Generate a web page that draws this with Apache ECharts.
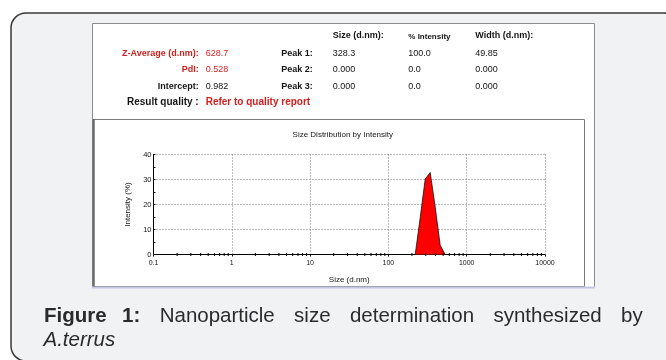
<!DOCTYPE html>
<html>
<head>
<meta charset="utf-8">
<script src="https://cdn.jsdelivr.net/npm/echarts@6/dist/echarts.min.js"></script>
<style>
  html, body { margin: 0; padding: 0; background: #ffffff; }
  #chart { width: 666px; height: 360px; }
</style>
</head>
<body>
<div id="chart"></div>
<script>
// Size distribution by intensity (DLS)
var sizeNm = [220.2, 255.0, 295.3, 342.0, 396.1, 458.7, 531.2];
var intensityPct = [0, 14.8, 30.2, 32.8, 18.9, 3.7, 0];

var xTickLabels = ['0.1', '1', '10', '100', '1000', '10000'];
var yTickLabels = ['0', '10', '20', '30', '40'];
var decadeStarts = [0.1, 1, 10, 100, 1000];
var minorMultipliers = [2, 3, 4, 5, 6, 7, 8, 9];

// Results table
var resultLabels = ['Z-Average (d.nm):', 'PdI:', 'Intercept:'];
var resultValues = ['628.7', '0.528', '0.982'];
var resultRed = [true, true, false];
var qualityLabel = 'Result quality :';
var qualityValue = 'Refer to quality report';
var peakHeaders = ['Size (d.nm):', '% Intensity', 'Width (d.nm):'];
var peakLabels = ['Peak 1:', 'Peak 2:', 'Peak 3:'];
var peakSizes = ['328.3', '0.000', '0.000'];
var peakIntensities = ['100.0', '0.0', '0.0'];
var peakWidths = ['49.85', '0.000', '0.000'];

var captionBold = ['Figure', '1:'];
var captionWords = ['Nanoparticle', 'size', 'determination', 'synthesized', 'by'];
var captionLine2 = 'A.terrus';

var FONT = '"Liberation Sans", Arial, Helvetica, sans-serif';
var RED = '#d11f1f';
var INK = '#151515';

var pairs = sizeNm.map(function (s, i) { return [s, intensityPct[i]]; });
var minorTicks = [];
decadeStarts.forEach(function (d) {
  minorMultipliers.forEach(function (m) { minorTicks.push([d * m, 0]); });
});

var graphics = [];
// outer rounded frame
graphics.push({
  type: 'rect', z: -10, silent: true,
  shape: { x: 11, y: 13, width: 668, height: 348, r: 15 },
  style: { fill: '#f1f2f4', stroke: '#3a3a3a', lineWidth: 1.5 }
});
// report panel
graphics.push({
  type: 'rect', z: -9, silent: true,
  shape: { x: 92.5, y: 23.5, width: 502, height: 264 },
  style: { fill: '#ffffff', stroke: '#8c8c8c', lineWidth: 1 }
});
// chart box
graphics.push({
  type: 'rect', z: -8, silent: true,
  shape: { x: 94, y: 119.5, width: 490.5, height: 167 },
  style: { fill: '#ffffff', stroke: '#7a7a7a', lineWidth: 1 }
});
graphics.push({
  type: 'line', z: -7, silent: true,
  shape: { x1: 93.5, y1: 119, x2: 93.5, y2: 287 },
  style: { stroke: '#6a6a6a', lineWidth: 2 }
});
graphics.push({
  type: 'line', z: -7, silent: true,
  shape: { x1: 92, y1: 287.5, x2: 595, y2: 287.5 },
  style: { stroke: '#c3c6e6', lineWidth: 2 }
});

function txt(x, y, text, opts) {
  opts = opts || {};
  graphics.push({
    type: 'text', silent: true, z: 5,
    x: x, y: y,
    style: {
      text: text,
      fill: opts.fill || INK,
      font: (opts.italic ? 'italic ' : '') + (opts.bold ? 'bold ' : '') + (opts.size || 9) + 'px ' + FONT,
      align: opts.align || 'left',
      verticalAlign: 'middle'
    }
  });
}

// table
var colSize = 332.7, colInt = 408.3, colWidth = 475.3;
var rowY = [53.3, 70, 86.7];
txt(colSize, 36, peakHeaders[0], { bold: true });
txt(colInt, 36.5, peakHeaders[1], { bold: true, size: 8 });
txt(colWidth, 36, peakHeaders[2], { bold: true });
for (var i = 0; i < 3; i++) {
  txt(198.7, rowY[i], resultLabels[i], { bold: true, align: 'right', fill: resultRed[i] ? RED : INK });
  txt(205.7, rowY[i], resultValues[i], { fill: resultRed[i] ? RED : INK });
  txt(312.7, rowY[i], peakLabels[i], { bold: true, align: 'right' });
  txt(colSize, rowY[i], peakSizes[i]);
  txt(colInt, rowY[i], peakIntensities[i]);
  txt(colWidth, rowY[i], peakWidths[i]);
}
txt(198.7, 102.7, qualityLabel, { bold: true, align: 'right', size: 10 });
txt(205.7, 102.7, qualityValue, { bold: true, size: 10, fill: RED });

// justified caption (first gap is a little tighter, between the bold words)
var capSize = 20.5;
var cv = document.createElement('canvas').getContext('2d');
function measure(t, bold) {
  cv.font = (bold ? 'bold ' : '') + capSize + 'px ' + FONT;
  return cv.measureText(t).width;
}
var words = captionBold.map(function (w) { return { t: w, b: true }; })
  .concat(captionWords.map(function (w) { return { t: w, b: false }; }));
var capLeft = 44, capRight = 642.7;
var total = 0;
words.forEach(function (w) { w.w = measure(w.t, w.b); total += w.w; });
var gapWeights = words.slice(1).map(function (w, k) { return k === 0 ? 0.8 : 1; });
var weightSum = gapWeights.reduce(function (a, b) { return a + b; }, 0);
var gapUnit = (capRight - capLeft - total) / weightSum;
var cx = capLeft;
words.forEach(function (w, k) {
  txt(cx, 316, w.t, { bold: w.b, size: capSize, fill: '#2b2b2b' });
  if (k < gapWeights.length) cx += w.w + gapUnit * gapWeights[k];
});
txt(capLeft - 0.5, 340.5, captionLine2, { italic: true, size: capSize, fill: '#2b2b2b' });

var chart = echarts.init(document.getElementById('chart'), null, { renderer: 'canvas' });
chart.setOption({
  animation: false,
  backgroundColor: 'transparent',
  title: {
    text: 'Size Distribution by Intensity',
    left: 337.8, top: 126, textAlign: 'center',
    textStyle: { fontFamily: FONT, fontSize: 8, fontWeight: 'normal', color: INK }
  },
  grid: { left: 153.5, right: 121, top: 154.5, bottom: 105.5, containLabel: false },
  xAxis: {
    type: 'log', logBase: 10, min: 0.1, max: 10000,
    name: 'Size (d.nm)', nameLocation: 'middle', nameGap: 21,
    nameTextStyle: { fontFamily: FONT, fontSize: 8, color: INK },
    axisLine: { show: true, lineStyle: { color: '#000', width: 1 } },
    axisTick: { show: true, inside: false, length: 2, lineStyle: { color: '#000' } },
    axisLabel: {
      fontFamily: FONT, fontSize: 7, color: INK, margin: 5,
      formatter: function (v, idx) { return xTickLabels[idx] !== undefined ? xTickLabels[idx] : ''; }
    },
    splitLine: { show: true, lineStyle: { color: '#7a7a7a', width: 1, type: [1, 2] } },
    minorTick: { show: false }
  },
  yAxis: {
    type: 'value', min: 0, max: 40, interval: 10,
    name: 'Intensity (%)', nameLocation: 'middle', nameGap: 14, nameRotate: 90,
    nameTextStyle: { fontFamily: FONT, fontSize: 8, color: INK },
    axisLine: { show: true, lineStyle: { color: '#000', width: 1 } },
    axisTick: { show: true, inside: true, length: 2, lineStyle: { color: '#000' } },
    minorTick: { show: true, splitNumber: 2, length: 2, lineStyle: { color: '#000' } },
    axisLabel: {
      fontFamily: FONT, fontSize: 7.5, color: INK, margin: 2,
      formatter: function (v, idx) { return yTickLabels[idx] !== undefined ? yTickLabels[idx] : ''; }
    },
    splitLine: { show: true, lineStyle: { color: '#7a7a7a', width: 1, type: [1, 2] } }
  },
  graphic: graphics,
  series: [
    {
      type: 'line',
      data: pairs,
      symbol: 'none',
      smooth: false,
      lineStyle: { color: '#111', width: 0.8 },
      areaStyle: { color: '#ff0000', opacity: 1 },
      z: 3
    },
    {
      type: 'custom',
      data: minorTicks,
      clip: false,
      z: 4,
      silent: true,
      renderItem: function (params, api) {
        var p = api.coord([api.value(0), api.value(1)]);
        return {
          type: 'line',
          shape: { x1: p[0], y1: p[1] - 1.5, x2: p[0], y2: p[1] + 1.5 },
          style: { stroke: '#000', lineWidth: 1 }
        };
      }
    }
  ]
});
</script>
</body>
</html>
